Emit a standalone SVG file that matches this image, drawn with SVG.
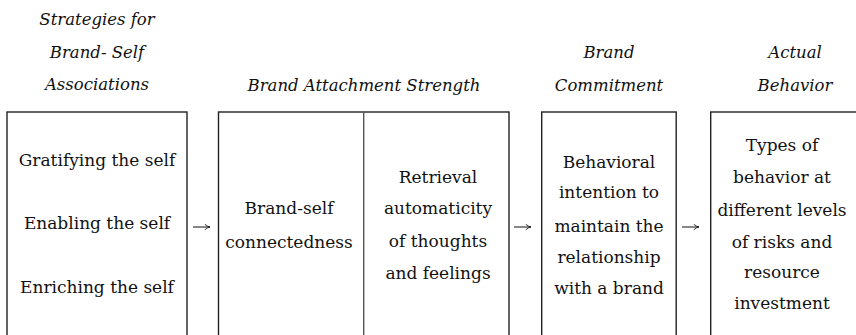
<svg xmlns="http://www.w3.org/2000/svg" width="856" height="335" viewBox="0 0 856 335">
<defs>
<marker id="ah" viewBox="0 0 10 10" refX="9.5" refY="5" markerWidth="7" markerHeight="7" markerUnits="userSpaceOnUse" orient="auto">
<path d="M2,1 Q6,4.5 9.5,5 Q6,5.5 2,9" fill="none" stroke="#111" stroke-width="1.2"/>
</marker>
</defs>
<style>
.box{fill:#fff;stroke:#222;stroke-width:1.4}
.div{stroke:#555;stroke-width:1.4}
.h{font-family:"DejaVu Serif","Liberation Serif",serif;font-style:italic;font-size:16.5px;fill:#111;text-anchor:middle}
.t{font-family:"DejaVu Serif","Liberation Serif",serif;font-size:17px;fill:#111;text-anchor:middle}
.c{stroke:#111;stroke-width:1;fill:none;marker-end:url(#ah)}
</style>
<rect width="856" height="335" fill="#fff"/>
<g id="headers">
<text class="h" x="97" y="25">Strategies for</text>
<text class="h" x="97" y="58">Brand- Self</text>
<text class="h" x="97" y="90">Associations</text>
<text class="h" x="364" y="91">Brand Attachment Strength</text>
<text class="h" x="609" y="58">Brand</text>
<text class="h" x="609" y="91">Commitment</text>
<text class="h" x="795" y="58">Actual</text>
<text class="h" x="795" y="91">Behavior</text>
</g>
<g id="strategies">
<rect class="box" x="7" y="112" width="180" height="240"/>
<text class="t" x="97" y="166">Gratifying the self</text>
<text class="t" x="97" y="229">Enabling the self</text>
<text class="t" x="97" y="293">Enriching the self</text>
</g>
<g id="attachment">
<rect class="box" x="218.5" y="112" width="290.5" height="240"/>
<line class="div" x1="363.7" y1="112" x2="363.7" y2="352"/>
<text class="t" x="289" y="214">Brand-self</text>
<text class="t" x="289" y="248">connectedness</text>
<text class="t" x="438" y="183">Retrieval</text>
<text class="t" x="438" y="214">automaticity</text>
<text class="t" x="438" y="247">of thoughts</text>
<text class="t" x="438" y="279">and feelings</text>
</g>
<g id="commitment">
<rect class="box" x="541.7" y="112" width="134.5" height="240"/>
<text class="t" x="609" y="168">Behavioral</text>
<text class="t" x="609" y="198">intention to</text>
<text class="t" x="609" y="232">maintain the</text>
<text class="t" x="609" y="263">relationship</text>
<text class="t" x="609" y="294">with a brand</text>
</g>
<g id="behavior">
<rect class="box" x="710.7" y="112" width="160" height="240"/>
<text class="t" x="782" y="151">Types of</text>
<text class="t" x="782" y="183">behavior at</text>
<text class="t" x="782" y="216">different levels</text>
<text class="t" x="782" y="248">of risks and</text>
<text class="t" x="782" y="278">resource</text>
<text class="t" x="782" y="309">investment</text>
</g>
<g id="connectors">
<line class="c" x1="193" y1="227" x2="210" y2="227"/>
<line class="c" x1="514" y1="227" x2="531" y2="227"/>
<line class="c" x1="682" y1="227" x2="699" y2="227"/>
</g>
</svg>
